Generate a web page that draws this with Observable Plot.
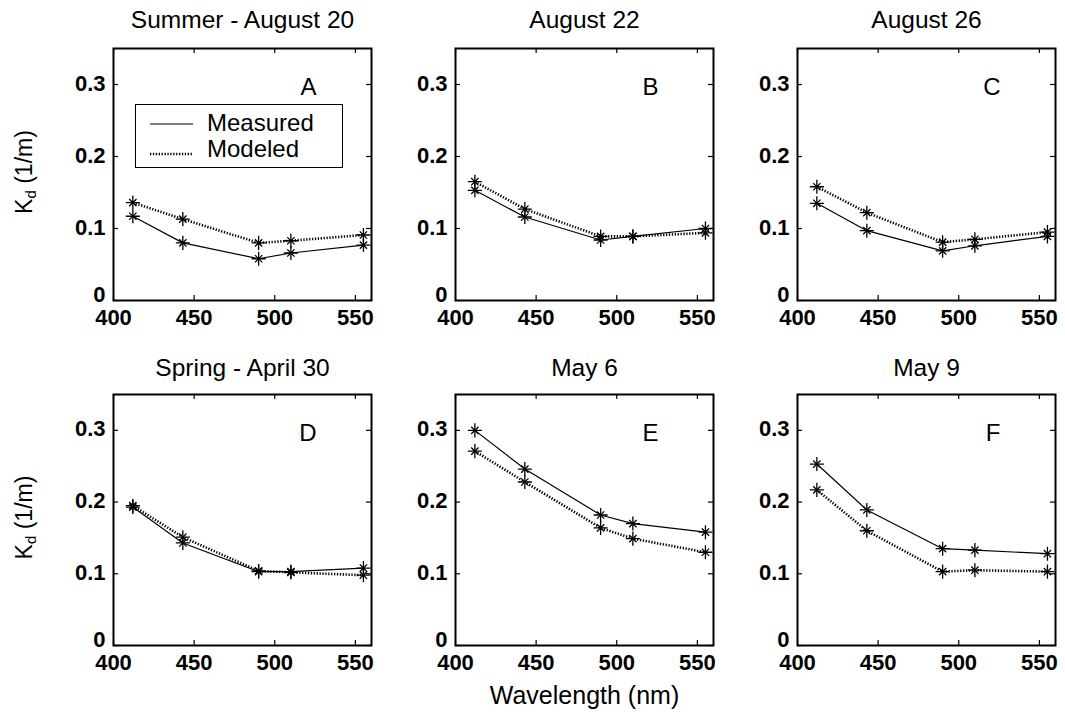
<!DOCTYPE html>
<html><head><meta charset="utf-8">
<script src="https://cdn.jsdelivr.net/npm/d3@7"></script>
<script src="https://cdn.jsdelivr.net/npm/@observablehq/plot@0.6"></script>
<style>
body{margin:0;background:#fff;}
#wrap{position:relative;width:1065px;height:712px;font-family:"Liberation Sans",Arial,sans-serif;background:#fff;overflow:hidden;}
.legend{position:absolute;background:#fff;border:1.5px solid #000;box-sizing:border-box;}
</style></head><body><div id="wrap"></div>
<script>
// ---- data ----
const wavelengths = [412, 443, 490, 510, 555];
const titles = ["Summer - August 20", "August 22", "August 26", "Spring - April 30", "May 6", "May 9"];
const letters = ["A", "B", "C", "D", "E", "F"];
const measuredA = [0.117, 0.080, 0.058, 0.066, 0.077];
const modeledA  = [0.136, 0.113, 0.080, 0.083, 0.091];
const measuredB = [0.153, 0.116, 0.084, 0.089, 0.100];
const modeledB  = [0.165, 0.127, 0.089, 0.089, 0.094];
const measuredC = [0.135, 0.097, 0.069, 0.076, 0.089];
const modeledC  = [0.158, 0.122, 0.081, 0.085, 0.095];
const measuredD = [0.193, 0.143, 0.103, 0.103, 0.108];
const modeledD  = [0.195, 0.151, 0.104, 0.102, 0.098];
const measuredE = [0.300, 0.246, 0.182, 0.170, 0.158];
const modeledE  = [0.271, 0.228, 0.164, 0.149, 0.130];
const measuredF = [0.253, 0.189, 0.135, 0.133, 0.128];
const modeledF  = [0.217, 0.160, 0.103, 0.105, 0.103];
const measuredAll = [measuredA, measuredB, measuredC, measuredD, measuredE, measuredF];
const modeledAll  = [modeledA, modeledB, modeledC, modeledD, modeledE, modeledF];
const xTicks = [400, 450, 500, 550];
const yTicks = [0, 0.1, 0.2, 0.3];
const xLabel = "Wavelength (nm)";
const seriesNames = ["Measured", "Modeled"];

// ---- layout ----
const FONT = "'Liberation Sans', Arial, sans-serif";
const DOT = "1.3,1.6";
const wrap = document.getElementById("wrap");
const frameLefts = [113, 455, 797];
const frameW = 258;
const frameHs = [252, 251];
const yFmt = d => d === 0 ? "0" : d3.format(".1f")(d);

function drawPanel(i) {
  const row = Math.floor(i / 3), col = i % 3;
  const mL = col === 0 ? 113 : 60;
  const mR = 10;
  const svgLeft = frameLefts[col] - mL;
  const svgTop = row === 0 ? 0 : 346;
  const mT = 48;
  const H = row === 0 ? 340 : 366;
  const ph = frameHs[row];
  const mB = H - mT - ph;
  const meas = wavelengths.map((w, k) => ({w, v: measuredAll[i][k]}));
  const mod = wavelengths.map((w, k) => ({w, v: modeledAll[i][k]}));
  const marks = [
    Plot.line(mod, {x: "w", y: "v", stroke: "black", strokeWidth: 2.6, strokeDasharray: DOT, strokeLinecap: "butt", strokeLinejoin: "miter"}),
    Plot.line(meas, {x: "w", y: "v", stroke: "black", strokeWidth: 1.2}),
    Plot.dot(mod.concat(meas), {x: "w", y: "v", symbol: "plus", r: 4.6, stroke: "black", strokeWidth: 1.3}),
    Plot.dot(mod.concat(meas), {x: "w", y: "v", symbol: "times", r: 3.4, stroke: "black", strokeWidth: 1.3}),
    Plot.tickX(xTicks, {x: d => d, stroke: "black", strokeWidth: 1.2, insetTop: ph - 5}),
    Plot.tickX(xTicks, {x: d => d, stroke: "black", strokeWidth: 1.2, insetBottom: ph - 5}),
    Plot.tickY(yTicks, {y: d => d, stroke: "black", strokeWidth: 1.2, insetRight: frameW - 5}),
    Plot.tickY(yTicks, {y: d => d, stroke: "black", strokeWidth: 1.2, insetLeft: frameW - 5}),
    Plot.frame({stroke: "black", strokeWidth: 2}),
    Plot.axisX({ticks: xTicks, tickSize: 0, tickPadding: 9, fontSize: 22, fontWeight: "bold", label: null, tickFormat: d => String(d)}),
    Plot.axisY({ticks: yTicks.slice(1), tickSize: 0, tickPadding: 8, dy: -1, fontSize: 22, fontWeight: "bold", label: null, tickFormat: yFmt}),
    Plot.axisY({ticks: yTicks.slice(0, 1), tickSize: 0, tickPadding: 8, dy: -6, fontSize: 22, fontWeight: "bold", label: null, tickFormat: yFmt}),
    Plot.text([titles[i]], {frameAnchor: "top", lineAnchor: "middle", dy: row === 0 ? -28 : -26, fontSize: 24.5, fill: "black"}),
    Plot.text([letters[i]], {frameAnchor: "top-right", lineAnchor: "middle", dx: -55, dy: 39, fontSize: 24, fill: "black"})
  ];
  if (i === 4) marks.push(Plot.text([xLabel], {frameAnchor: "bottom", lineAnchor: "middle", dy: 50, fontSize: 25, fill: "black"}));
  const svg = Plot.plot({
    width: mL + frameW + mR, height: H,
    marginLeft: mL, marginRight: mR, marginTop: mT, marginBottom: mB,
    x: {domain: [400, 560]},
    y: {domain: [0, 0.35]},
    style: {fontFamily: FONT, color: "black", background: "transparent", overflow: "visible"},
    marks
  });
  svg.style.position = "absolute";
  svg.style.left = svgLeft + "px";
  svg.style.top = svgTop + "px";
  if (col === 0) {
    const cy = mT + ph / 2 - 2;
    const t = d3.select(svg).append("text")
      .attr("transform", `translate(26,${cy}) rotate(-90)`)
      .attr("text-anchor", "middle")
      .attr("dominant-baseline", "middle")
      .attr("font-family", FONT).attr("font-size", 23).attr("fill", "black");
    t.append("tspan").text("K");
    t.append("tspan").attr("font-size", 15).attr("dy", 6).text("d");
    t.append("tspan").attr("dy", -6).text(" (1/m)");
  }
  wrap.appendChild(svg);
}
for (let i = 0; i < 6; i++) drawPanel(i);

// ---- legend (panel A) ----
const leg = document.createElement("div");
leg.className = "legend";
Object.assign(leg.style, {left: "135px", top: "104px", width: "208px", height: "64px"});
wrap.appendChild(leg);
const ls = d3.select(leg).append("svg").attr("width", 206).attr("height", 62)
  .style("position", "absolute").style("left", "0px").style("top", "0px");
ls.append("line").attr("x1", 14).attr("x2", 57).attr("y1", 19).attr("y2", 19)
  .attr("stroke", "black").attr("stroke-width", 1.2);
ls.append("line").attr("x1", 14).attr("x2", 57).attr("y1", 49).attr("y2", 49)
  .attr("stroke", "black").attr("stroke-width", 2.6).attr("stroke-dasharray", DOT);
ls.append("text").attr("x", 71).attr("y", 20).attr("dominant-baseline", "middle")
  .attr("font-family", FONT).attr("font-size", 24).text(seriesNames[0]);
ls.append("text").attr("x", 71).attr("y", 46).attr("dominant-baseline", "middle")
  .attr("font-family", FONT).attr("font-size", 24).text(seriesNames[1]);
</script></body></html>
